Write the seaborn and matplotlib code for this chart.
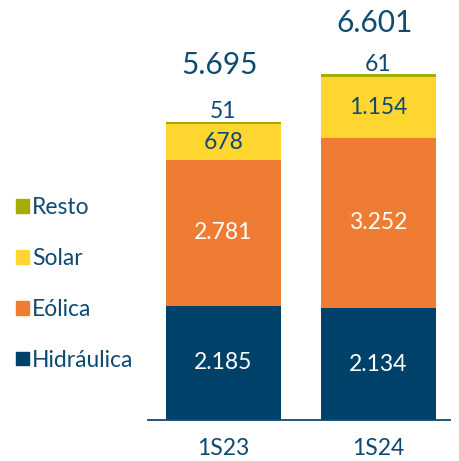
import pandas as pd
import matplotlib.pyplot as plt
import seaborn as sns
from matplotlib.patches import Patch

# Datos
periodos = ['1S23', '1S24']
hidraulica = [2185, 2134]
eolica = [2781, 3252]
solar = [678, 1154]
resto = [51, 61]
etiquetas_hidraulica = ['2.185', '2.134']
etiquetas_eolica = ['2.781', '3.252']
etiquetas_solar = ['678', '1.154']
etiquetas_resto = ['51', '61']
etiquetas_total = ['5.695', '6.601']

c_hid = '#00416A'
c_eol = '#EE7D33'
c_sol = '#FFD52F'
c_res = '#A3AE00'
c_txt = '#0E4A72'

sns.set_style('white')
plt.rcParams['font.family'] = ['Lato', 'DejaVu Sans']

df = pd.DataFrame({'periodo': periodos, 'hid': hidraulica, 'eol': eolica,
                   'sol': solar, 'res': resto})
df['c1'] = df['hid']
df['c2'] = df['c1'] + df['eol']
df['c3'] = df['c2'] + df['sol']
df['c4'] = df['c3'] + df['res']

fig = plt.figure(figsize=(4.59, 4.61), dpi=100)
ax = fig.add_axes([148 / 459, 41 / 461, 302 / 459, 420 / 461])

ancho = 0.742
for col, color in [('c4', c_res), ('c3', c_sol), ('c2', c_eol), ('c1', c_hid)]:
    sns.barplot(data=df, x='periodo', y=col, color=color, width=ancho,
                saturation=1, ax=ax, linewidth=0)

ax.set_xlim(-0.487, 1.461)
ax.set_ylim(0, 8015)

# el total de 1S24 queda algo más pegado a la barra para no salirse
desplaz_total = [41, 37]

for i in range(len(periodos)):
    ax.text(i, df['hid'][i] / 2, etiquetas_hidraulica[i], ha='center', va='center',
            color='white', fontsize=16.5)
    ax.text(i, df['c1'][i] + df['eol'][i] / 2, etiquetas_eolica[i], ha='center',
            va='center', color='white', fontsize=16.5)
    ax.text(i, df['c2'][i] + df['sol'][i] / 2, etiquetas_solar[i], ha='center',
            va='center', color=c_txt, fontsize=16.5)
    ax.annotate(etiquetas_resto[i], (i, df['c4'][i]), xytext=(0, 7),
                textcoords='offset points', ha='center', va='center',
                color=c_txt, fontsize=16.5)
    ax.annotate(etiquetas_total[i], (i, df['c4'][i]), xytext=(-3, desplaz_total[i]),
                textcoords='offset points', ha='center', va='center',
                color=c_txt, fontsize=21.5)

sns.despine(ax=ax, left=True)
ax.spines['bottom'].set_color(c_txt)
ax.spines['bottom'].set_linewidth(1.3)
ax.set_yticks([])
ax.set_xlabel('')
ax.set_ylabel('')
ax.tick_params(axis='x', length=0, labelsize=16.5, labelcolor=c_txt, pad=13)

handles = [Patch(color=c_res, label='Resto'), Patch(color=c_sol, label='Solar'),
           Patch(color=c_eol, label='Eólica'), Patch(color=c_hid, label='Hidráulica')]
fig.legend(handles=handles, loc='center left', bbox_to_anchor=(0.01, 0.384),
           bbox_transform=fig.transFigure, frameon=False, fontsize=16.5,
           handlelength=0.55, handleheight=0.55, handletextpad=0.15,
           labelspacing=1.3, borderpad=0, labelcolor=c_txt)

fig.savefig('out.png', dpi=100)
